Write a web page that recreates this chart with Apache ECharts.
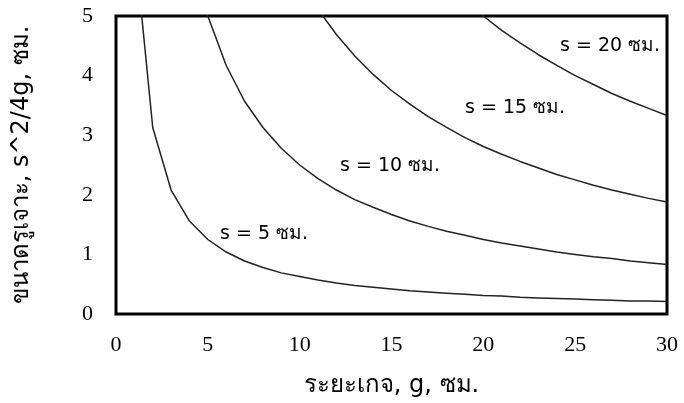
<!DOCTYPE html>
<html><head><meta charset="utf-8">
<script src="https://cdn.jsdelivr.net/npm/echarts@6/dist/echarts.min.js"></script>
<style>html,body{margin:0;padding:0;background:#fff}#c{width:684px;height:403px}</style>
</head><body><div id="c"></div>
<script>
const gaugeLength = [1,2,3,4,5,6,7,8,9,10,11,12,13,14,15,16,17,18,19,20,21,22,23,24,25,26,27,28,29,30];
const s5  = [6.25,3.13,2.08,1.56,1.25,1.04,0.89,0.78,0.69,0.63,0.57,0.52,0.48,0.45,0.42,0.39,0.37,0.35,0.33,0.31,0.30,0.28,0.27,0.26,0.25,0.24,0.23,0.22,0.22,0.21];
const s10 = [25,12.5,8.33,6.25,5,4.17,3.57,3.13,2.78,2.5,2.27,2.08,1.92,1.79,1.67,1.56,1.47,1.39,1.32,1.25,1.19,1.14,1.09,1.04,1,0.96,0.93,0.89,0.86,0.83];
const s15 = [56.25,28.13,18.75,14.06,11.25,9.38,8.04,7.03,6.25,5.63,5.11,4.69,4.33,4.02,3.75,3.52,3.31,3.13,2.96,2.81,2.68,2.56,2.45,2.34,2.25,2.16,2.08,2.01,1.94,1.88];
const s20 = [100,50,33.33,25,20,16.67,14.29,12.5,11.11,10,9.09,8.33,7.69,7.14,6.67,6.25,5.88,5.56,5.26,5,4.76,4.55,4.35,4.17,4,3.85,3.70,3.57,3.45,3.33];
const seriesNames = ['s = 5 ซม.','s = 10 ซม.','s = 15 ซม.','s = 20 ซม.'];
const xTitle = 'ระยะเกจ, g, ซม.';
const yTitle = 'ขนาดรูเจาะ, s^2/4g, ซม.';

const chart = echarts.init(document.getElementById('c'));
const mk = (name, arr) => ({
  name, type:'line', data: gaugeLength.map((g,i)=>[g,arr[i]]),
  showSymbol:false, clip:true, smooth:false,
  lineStyle:{color:'#222', width:1.5}
});
const serif = 'Liberation Serif, Times New Roman, serif';
const sans = 'DejaVu Sans, Noto Sans, sans-serif';
chart.setOption({
  animation:false,
  grid:{left:116,right:17,top:16,bottom:87,show:true,borderColor:'#000',borderWidth:3,backgroundColor:'#fff'},
  xAxis:{type:'value',min:0,max:30,interval:5,
    axisLine:{show:false},axisTick:{show:false},splitLine:{show:false},
    axisLabel:{fontFamily:serif,fontSize:22,color:'#000',margin:20},
    name:xTitle,nameLocation:'middle',nameGap:60,
    nameTextStyle:{fontFamily:sans,fontSize:24,color:'#000'}},
  yAxis:{type:'value',min:0,max:5,interval:1,
    axisLine:{show:false},axisTick:{show:false},splitLine:{show:false},
    axisLabel:{fontFamily:serif,fontSize:22,color:'#000',margin:23},
    name:yTitle,nameLocation:'middle',nameGap:82,
    nameTextStyle:{fontFamily:sans,fontSize:24,color:'#000'}},
  series:[mk(seriesNames[0],s5),mk(seriesNames[1],s10),mk(seriesNames[2],s15),mk(seriesNames[3],s20)],
  graphic:[
    {type:'text',left:220,top:225,style:{text:seriesNames[0],font:'19px '+sans,fill:'#000'}},
    {type:'text',left:340,top:157,style:{text:seriesNames[1],font:'19px '+sans,fill:'#000'}},
    {type:'text',left:465,top:99,style:{text:seriesNames[2],font:'19px '+sans,fill:'#000'}},
    {type:'text',left:560,top:37,style:{text:seriesNames[3],font:'19px '+sans,fill:'#000'}}
  ]
});
</script></body></html>
